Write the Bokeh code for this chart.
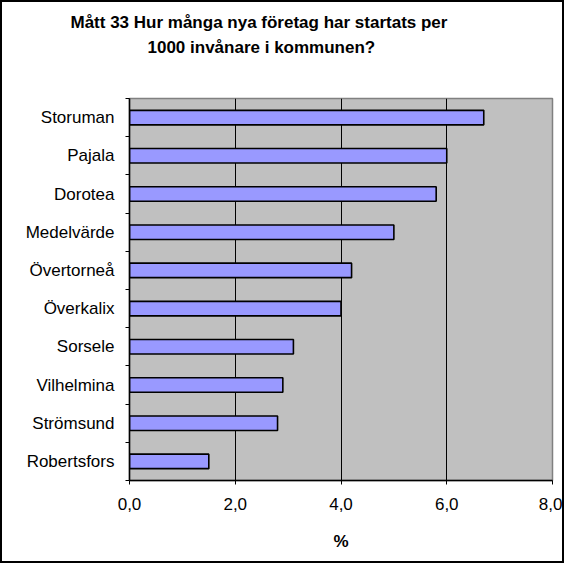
from bokeh.plotting import figure
from bokeh.models import FixedTicker, Title
from bokeh.embed import file_html
from bokeh.resources import INLINE

# Data (bottom to top)
categories = ["Robertsfors", "Strömsund", "Vilhelmina", "Sorsele", "Överkalix",
              "Övertorneå", "Medelvärde", "Dorotea", "Pajala", "Storuman"]
values = [1.5, 2.8, 2.9, 3.1, 4.0, 4.2, 5.0, 5.8, 6.0, 6.7]
x_ticks = [0, 2, 4, 6, 8]
x_tick_labels = ["0,0", "2,0", "4,0", "6,0", "8,0"]
title_lines = ["Mått 33 Hur många nya företag har startats per",
               "1000 invånare i kommunen?"]
x_axis_title = "%"

FONT = "Liberation Sans"
n = len(categories)
ypos = list(range(n))

p = figure(width=564, height=563, output_backend="svg", toolbar_location=None,
           x_range=(0, 8), y_range=(-0.5, n - 0.5),
           min_border_left=127, min_border_right=14,
           min_border_top=96, min_border_bottom=85)
p.styles = {"border": "2px solid black"}

p.background_fill_color = "#C0C0C0"
p.border_fill_color = "white"
p.outline_line_color = "#808080"
p.outline_line_width = 1.5

p.hbar(y=ypos, right=values, left=0, height=0.38,
       fill_color="#9999FF", line_color="black", line_width=1.6)

# X axis
p.xaxis.ticker = FixedTicker(ticks=x_ticks)
p.xaxis.major_label_overrides = {t: l for t, l in zip(x_ticks, x_tick_labels)}
p.xaxis.minor_tick_line_color = None
p.xaxis.major_tick_in = 0
p.xaxis.major_tick_out = 4
p.xaxis.major_label_standoff = 13
p.xaxis.major_label_text_font = FONT
p.xaxis.major_label_text_font_size = "17px"
p.xaxis.major_label_text_color = "black"
p.xaxis.axis_label = x_axis_title
p.xaxis.axis_label_text_font = FONT
p.xaxis.axis_label_text_font_size = "17px"
p.xaxis.axis_label_text_font_style = "bold"
p.xaxis.axis_label_text_color = "black"
p.xaxis.axis_label_standoff = 19
p.xaxis.axis_line_color = "black"
p.xaxis.axis_line_width = 1.5

# Y axis: labels at centres, ticks at boundaries
p.yaxis.ticker = FixedTicker(ticks=ypos, minor_ticks=[i - 0.5 for i in range(n + 1)])
p.yaxis.major_label_overrides = {i: c for i, c in zip(ypos, categories)}
p.yaxis.major_tick_in = 0
p.yaxis.major_tick_out = 0
p.yaxis.minor_tick_in = 0
p.yaxis.minor_tick_out = 4
p.yaxis.minor_tick_line_color = "black"
p.yaxis.major_label_standoff = 11
p.yaxis.major_label_text_font = FONT
p.yaxis.major_label_text_font_size = "17px"
p.yaxis.major_label_text_color = "black"
p.yaxis.axis_line_color = "black"
p.yaxis.axis_line_width = 1.5

# Grid
p.xgrid.ticker = FixedTicker(ticks=[2, 4, 6])
p.xgrid.grid_line_color = "black"
p.xgrid.grid_line_width = 1
p.ygrid.grid_line_color = None

# Spacer between plot area and title
p.add_layout(Title(text=" ", text_font_size="1px", standoff=37), "above")
# Title: two lines, second added first (closest to the plot)
for line, off in zip(reversed(title_lines), [18, -59]):
    p.add_layout(Title(text=line, align="left", offset=off, text_font=FONT,
                       text_font_size="17px", text_font_style="bold",
                       text_color="black", standoff=4), "above")

open("out.html", "w").write(file_html(p, INLINE))
